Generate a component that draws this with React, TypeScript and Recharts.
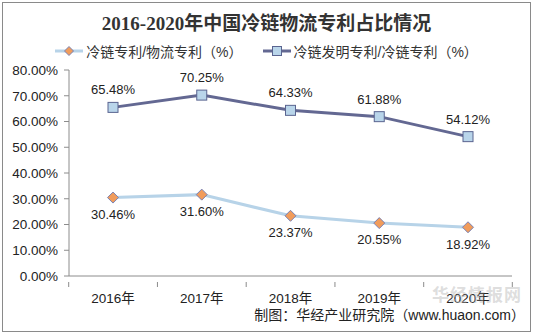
import React from 'react';
import { ComposedChart, Line, XAxis, YAxis, LabelList } from 'recharts';

const years = ['2016年', '2017年', '2018年', '2019年', '2020年'];
const coldToLogistics = [30.46, 31.6, 23.37, 20.55, 18.92];
const inventionToCold = [65.48, 70.25, 64.33, 61.88, 54.12];
const yTicks = [0, 10, 20, 30, 40, 50, 60, 70, 80];

const SERIES1_NAME = '冷链专利/物流专利（%）';
const SERIES2_NAME = '冷链发明专利/冷链专利（%）';

const LIGHT_LINE = '#b7d3e8';
const DARK_LINE = '#636892';
const FONT = '"Liberation Sans", Arial, "Noto Sans CJK SC", sans-serif';

const data = years.map((year, i) => ({
  year,
  s1: coldToLogistics[i],
  s2: inventionToCold[i],
}));

const HALF_BAND = 44.3;

function XTick(props: { x?: number; y?: number; payload?: { value: string; index: number } }) {
  const { x = 0, y = 0, payload } = props;
  const idx = payload?.index ?? 0;
  return (
    <g>
      <line x1={x - HALF_BAND} y1={y - 2} x2={x - HALF_BAND} y2={y + 3} stroke="#8c8c8c" />
      {idx === years.length - 1 && (
        <line x1={x + HALF_BAND} y1={y - 2} x2={x + HALF_BAND} y2={y + 3} stroke="#8c8c8c" />
      )}
      <text x={x} y={y + 19} textAnchor="middle" fontSize={13.5} fill="#222" fontFamily={FONT}>
        {payload?.value}
      </text>
    </g>
  );
}

function Diamond(props: { cx?: number; cy?: number }) {
  const { cx = 0, cy = 0 } = props;
  if (!cx && !cy) return null;
  const s = 5.5;
  return (
    <path
      d={`M ${cx} ${cy - s} L ${cx + s} ${cy} L ${cx} ${cy + s} L ${cx - s} ${cy} Z`}
      fill="#f19c5b"
      stroke="#7a82b4"
      strokeWidth={1}
    />
  );
}

function Square(props: { cx?: number; cy?: number }) {
  const { cx = 0, cy = 0 } = props;
  if (!cx && !cy) return null;
  const s = 5;
  return (
    <rect x={cx - s} y={cy - s} width={s * 2} height={s * 2} fill="#b9d5ea" stroke="#5a6490" strokeWidth={1} />
  );
}

const fmt = (v: unknown) => `${Number(v).toFixed(2)}%`;

export default function App() {
  return (
    <div
      style={{
        position: 'absolute',
        left: 0,
        top: 0,
        width: 533,
        height: 335,
        background: '#fff',
        fontFamily: FONT,
      }}
    >
      <div
        style={{
          position: 'absolute',
          left: 2,
          top: 2,
          width: 527,
          height: 328,
          border: '1px solid #8a8a8a',
        }}
      />
      <div
        style={{
          position: 'absolute',
          left: 0,
          top: 8,
          width: 533,
          textAlign: 'center',
          fontSize: 19,
          fontWeight: 'bold',
          color: '#333',
          fontFamily: '"Liberation Serif", "Noto Sans CJK SC", serif',
        }}
      >
        2016-2020年中国冷链物流专利占比情况
      </div>
      <div
        style={{
          position: 'absolute',
          left: 0,
          top: 41,
          width: 533,
          display: 'flex',
          justifyContent: 'center',
          gap: 20,
          fontSize: 14,
          color: '#333',
        }}
      >
        <span style={{ display: 'flex', alignItems: 'center', gap: 3 }}>
          <svg width={28} height={12}>
            <line x1={0} y1={6} x2={28} y2={6} stroke={LIGHT_LINE} strokeWidth={3} />
            <path d="M 14 1.5 L 18.5 6 L 14 10.5 L 9.5 6 Z" fill="#f19c5b" stroke="#7a82b4" />
          </svg>
          {SERIES1_NAME}
        </span>
        <span style={{ display: 'flex', alignItems: 'center', gap: 3 }}>
          <svg width={28} height={12}>
            <line x1={0} y1={6} x2={28} y2={6} stroke={DARK_LINE} strokeWidth={3} />
            <rect x={9.5} y={1.5} width={9} height={9} fill="#b9d5ea" stroke="#5a6490" />
          </svg>
          {SERIES2_NAME}
        </span>
      </div>
      <ComposedChart
        width={533}
        height={335}
        data={data}
        margin={{ top: 70, right: 21, left: 8, bottom: 29 }}
        style={{ position: 'absolute', left: 0, top: 0 }}
      >
        <XAxis
          dataKey="year"
          height={30}
          padding={{ left: 44, right: 44 }}
          axisLine={{ stroke: '#8c8c8c' }}
          tickLine={false}
          tick={<XTick />}
          interval={0}
        />
        <YAxis
          width={61}
          domain={[0, 80]}
          ticks={yTicks}
          interval={0}
          axisLine={{ stroke: '#8c8c8c' }}
          tickLine={{ stroke: '#8c8c8c' }}
          tickSize={5}
          tick={{ fontSize: 13.5, fill: '#222', fontFamily: FONT, dx: -4 }}
          tickFormatter={(v: number) => `${v.toFixed(2)}%`}
        />
        <Line
          dataKey="s2"
          name={SERIES2_NAME}
          stroke={DARK_LINE}
          strokeWidth={3}
          dot={<Square />}
          isAnimationActive={false}
        >
          <LabelList dataKey="s2" position="top" offset={13} formatter={fmt} fontSize={13} fill="#222" />
        </Line>
        <Line
          dataKey="s1"
          name={SERIES1_NAME}
          stroke={LIGHT_LINE}
          strokeWidth={3}
          dot={<Diamond />}
          isAnimationActive={false}
        >
          <LabelList dataKey="s1" position="bottom" offset={12} formatter={fmt} fontSize={13} fill="#222" />
        </Line>
      </ComposedChart>
      <div
        style={{
          position: 'absolute',
          left: 432,
          top: 281,
          fontSize: 17,
          fontWeight: 'bold',
          color: 'rgba(180,180,180,0.45)',
          letterSpacing: 1,
        }}
      >
        华经情报网
      </div>
      <div
        style={{
          position: 'absolute',
          right: 8,
          top: 304,
          fontSize: 14,
          color: '#222',
        }}
      >
        制图：华经产业研究院（www.huaon.com）
      </div>
    </div>
  );
}
